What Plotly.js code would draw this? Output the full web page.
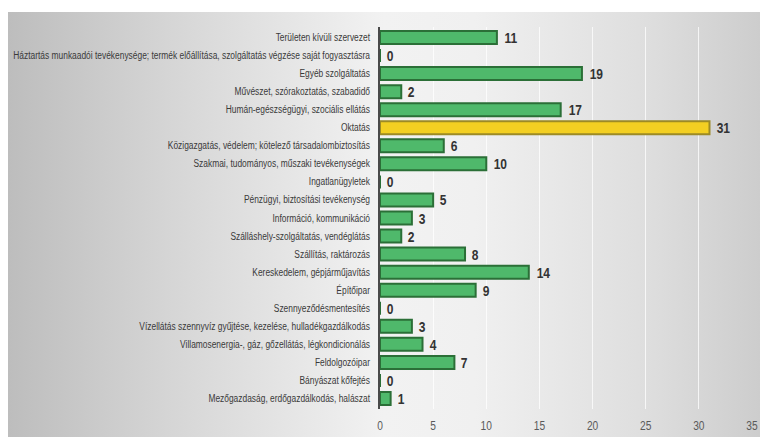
<!DOCTYPE html>
<html><head><meta charset="utf-8">
<script src="https://cdn.plot.ly/plotly-3.0.1.min.js"></script>
<style>
html,body{margin:0;padding:0;background:#fff;}
#bg{position:absolute;left:8px;top:12px;width:752px;height:425px;
background:linear-gradient(to right,#bdbdbd 0%,#d6d6d6 22%,#f2f2f2 50%,#f0f0f0 62%,#dedede 85%,#cdcdcd 100%);}
#chart{position:absolute;left:0;top:0;width:760px;height:437px;}
</style></head><body>
<div id="bg"></div>
<div id="chart"></div>
<script>
const categories = [
"Területen kívüli szervezet",
"Háztartás munkaadói tevékenysége; termék előállítása, szolgáltatás végzése saját fogyasztásra",
"Egyéb szolgáltatás",
"Művészet, szórakoztatás, szabadidő",
"Humán-egészségügyi, szociális ellátás",
"Oktatás",
"Közigazgatás, védelem; kötelező társadalombiztosítás",
"Szakmai, tudományos, műszaki tevékenységek",
"Ingatlanügyletek",
"Pénzügyi, biztosítási tevékenység",
"Információ, kommunikáció",
"Szálláshely-szolgáltatás, vendéglátás",
"Szállítás, raktározás",
"Kereskedelem, gépjárműjavítás",
"Építőipar",
"Szennyeződésmentesítés",
"Vízellátás szennyvíz gyűjtése, kezelése, hulladékgazdálkodás",
"Villamosenergia-, gáz, gőzellátás, légkondicionálás",
"Feldolgozóipar",
"Bányászat kőfejtés",
"Mezőgazdaság, erdőgazdálkodás, halászat"
];
const values = [11,0,19,2,17,31,6,10,0,5,3,2,8,14,9,0,3,4,7,0,1];
const highlight = "Oktatás";
const xTicks = [0,5,10,15,20,25,30,35];

const FONT = 'Liberation Sans, Arial, sans-serif';
const fill = categories.map(c => c===highlight ? '#f3cf22' : '#4fb96b');
const border = categories.map(c => c===highlight ? '#9c8a26' : '#2b6f37');

const trace = {
  type:'bar', orientation:'h',
  y: categories, x: values,
  marker:{color:fill, line:{color:border, width:2}},
  hoverinfo:'none'
};
const annotations = categories.map((c,i) => ({
  x: values[i], y: c, xref:'x', yref:'y',
  text:'<b>'+values[i]+'</b>', showarrow:false,
  xanchor:'left', xshift:4, yshift:0,
  font:{family:FONT, size:15, color:'#333'}
}));
const layout = {
  width:760, height:437,
  paper_bgcolor:'rgba(0,0,0,0)', plot_bgcolor:'rgba(0,0,0,0)',
  margin:{l:380, r:8, t:27, b:28},
  bargap:0.28,
  showlegend:false,
  annotations: annotations,
  xaxis:{range:[0,35], tickvals:xTicks, ticktext:xTicks.map(String),
    showgrid:true, gridcolor:'rgba(255,255,255,0.75)', gridwidth:1,
    zeroline:false, showline:false, ticks:'', ticklabelstandoff:8,
    tickfont:{family:FONT, size:12, color:'#5a5a5a'}},
  yaxis:{type:'category', autorange:'reversed', showline:true, linecolor:'#4a4a4a', linewidth:2,
    ticks:'', ticklabelstandoff:6,
    tickfont:{family:FONT, size:10, color:'#3a3a3a'}}
};
function condense(sel, k){
  document.querySelectorAll(sel).forEach(t => {
    const w = t.getComputedTextLength();
    if (w > 0) {
      t.setAttribute('textLength', (w*k).toFixed(2));
      t.setAttribute('lengthAdjust', 'spacingAndGlyphs');
    }
  });
}
Plotly.newPlot('chart',[trace],layout,{staticPlot:true, displayModeBar:false}).then(() => {
  condense('#chart .ytick text', 0.84);
  condense('#chart .xtick text', 0.85);
  condense('#chart .annotation-text', 0.8);
});
</script></body></html>
